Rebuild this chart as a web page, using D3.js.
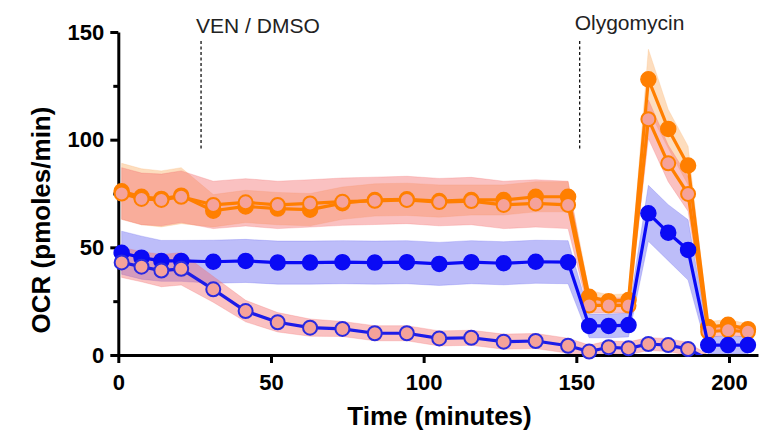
<!DOCTYPE html>
<html>
<head>
<meta charset="utf-8">
<script src="https://cdn.jsdelivr.net/npm/d3@7/dist/d3.min.js"></script>
<style>
  html, body { margin: 0; padding: 0; background: #fff; }
  svg { display: block; }
  text { font-family: "Liberation Sans", Arial, Helvetica, sans-serif; }
</style>
</head>
<body>
<svg id="chart" width="761" height="435"></svg>
<script>
// Measurement times (minutes)
const time = [1.1, 7.6, 14.1, 20.6, 31.1, 41.7, 52.2, 62.8, 73.4, 84.0, 94.5, 105.1,
  115.6, 126.2, 136.7, 147.3, 154.2, 160.6, 167.1, 173.6, 180.1, 186.6, 193.2, 199.7, 206.2];

// OCR means and spread (pmoles/min) per condition
const orangeMean = [76, 73.5, 72.5, 74, 67, 69, 68, 67.5, 70.5, 72, 72.3, 71.5,
  72, 72, 73.5, 73.5, 27, 25, 25.5, 128, 105, 88, 13, 14, 12];
const orangeSd = [13, 13, 13, 13, 7.5, 7.5, 7.5, 7.5, 7.5, 7.5, 7.5, 7.5,
  7, 7, 7, 7, 3, 3, 3, 14, 9, 9, 2.5, 2.5, 2.5];

const salmonMean = [75, 72.5, 72, 73.5, 69.7, 70.9, 69.7, 70.4, 71.2, 71.6, 72, 71,
  71.5, 69.7, 70.4, 69.7, 23, 23, 23, 109.5, 89, 74.8, 10.8, 11.5, 10.8];
const salmonSd = [12, 12, 12, 12, 11, 11, 11, 11, 11, 11, 11, 11,
  11, 11, 11, 11, 3.5, 3.5, 3.5, 9, 8.5, 8, 2.5, 2.5, 2.5];

const blueMean = [47.5, 45.2, 43.7, 43.7, 43.3, 43.7, 42.9, 42.9, 43.1, 42.9, 43.1, 42.3,
  43.1, 42.6, 43.3, 43.1, 13.5, 13.5, 13.9, 65.8, 56.8, 48.8, 4.6, 4.6, 4.6];
const blueSd = [10, 10, 9.5, 9.5, 10, 10, 10, 10, 10, 10, 10, 10,
  10, 10, 10, 10, 5.5, 5.5, 5.5, 13, 13, 14, 4, 4, 4];

const violetMean = [43, 41, 39.2, 40, 30.5, 20.4, 15.2, 12.7, 12.1, 10.1, 10.1, 7.7,
  8.0, 6.2, 6.5, 4.3, 1.6, 3.6, 3.1, 5.1, 4.6, 2.8, -2, -2, -2];
const violetSd = [7, 7, 7.5, 7.5, 6, 5, 4.5, 4, 3.5, 3.5, 3.5, 3.5,
  3.5, 3.5, 3.5, 3.5, 3, 3, 3, 3, 3, 3, 2, 2, 2];

// Injection markers
const injections = [
  { label: "VEN / DMSO", t: 27.1 },
  { label: "Olygomycin", t: 151.1 }
];

const xTicks = [0, 50, 100, 150, 200];
const yTicks = [0, 50, 100, 150];
const yMinorTicks = [25, 75, 125];

const svg = d3.select("#chart");

const x = d3.scaleLinear().domain([0, 209.5]).range([118.3, 758]);
const y = d3.scaleLinear().domain([0, 150]).range([355, 32]);

// Plot clip (values below zero stay hidden under the axis)
svg.append("defs").append("clipPath").attr("id", "plotClip")
  .append("rect")
  .attr("x", x(0)).attr("y", 0)
  .attr("width", 761 - x(0)).attr("height", y(0));

const series = [
  { mean: orangeMean, sd: orangeSd, line: "#ff7f00", fill: "#ff7f00", stroke: "#ff7f00",
    band: "#fbb46e", bandOpacity: 0.45, r: 7.5, sw: 1.5 },
  { mean: salmonMean, sd: salmonSd, line: "#ff7f00", fill: "#f5a29a", stroke: "#ff7f00",
    band: "#f26b6b", bandOpacity: 0.42, r: 7, sw: 2 },
  { mean: blueMean, sd: blueSd, line: "#0a0af5", fill: "#0a0af5", stroke: "#0a0af5",
    band: "#5a5af0", bandOpacity: 0.4, r: 7.5, sw: 1.5 },
  { mean: violetMean, sd: violetSd, line: "#1c1ce8", fill: "#f5a29a", stroke: "#2a2ae0",
    band: "#f26b6b", bandOpacity: 0.42, r: 7, sw: 2 }
];

const bandLayer = svg.append("g").attr("clip-path", "url(#plotClip)");
series.forEach(s => {
  const area = d3.area()
    .x((d, i) => x(time[i]))
    .y0((d, i) => y(s.mean[i] - s.sd[i]))
    .y1((d, i) => y(s.mean[i] + s.sd[i]));
  bandLayer.append("path")
    .datum(s.mean)
    .attr("d", area)
    .attr("fill", s.band)
    .attr("fill-opacity", s.bandOpacity)
    .attr("stroke", s.band)
    .attr("stroke-opacity", 0.25)
    .attr("stroke-width", 1);
});

// Axes
const yAxis = svg.append("g")
  .attr("transform", `translate(${x(0)},0)`)
  .call(d3.axisLeft(y).tickValues(yTicks).tickSize(8).tickSizeOuter(0).tickPadding(6));
svg.append("g")
  .attr("transform", `translate(${x(0)},0)`)
  .call(d3.axisLeft(y).tickValues(yMinorTicks).tickSize(5).tickFormat(""))
  .call(g => g.select(".domain").remove())
  .selectAll("line").attr("stroke", "#000").attr("stroke-width", 3);

const xAxis = svg.append("g")
  .attr("transform", `translate(0,${y(0)})`)
  .call(d3.axisBottom(x).tickValues(xTicks).tickSize(8).tickSizeOuter(0).tickPadding(6));

[yAxis, xAxis].forEach(g => {
  g.select(".domain").attr("stroke", "#000").attr("stroke-width", 3);
  g.selectAll(".tick line").attr("stroke", "#000").attr("stroke-width", 3);
  g.selectAll(".tick text")
    .attr("fill", "#000")
    .style("font-size", "22px")
    .style("font-weight", "bold");
});
xAxis.selectAll(".tick text").attr("dy", "0.95em");

// Lines and markers
const lineLayer = svg.append("g");
series.forEach(s => {
  const line = d3.line()
    .x((d, i) => x(time[i]))
    .y(d => y(d));
  lineLayer.append("path")
    .datum(s.mean)
    .attr("clip-path", "url(#plotClip)")
    .attr("d", line)
    .attr("fill", "none")
    .attr("stroke", s.line)
    .attr("stroke-width", 3.2)
    .attr("stroke-linejoin", "round");
  lineLayer.append("g")
    .selectAll("circle")
    .data(s.mean.map((v, i) => ({ t: time[i], v })).filter(d => d.v >= 0))
    .join("circle")
    .attr("cx", d => x(d.t))
    .attr("cy", d => y(d.v))
    .attr("r", s.r)
    .attr("fill", s.fill)
    .attr("stroke", s.stroke)
    .attr("stroke-width", s.sw);
});

// Injection annotations
const injLayer = svg.append("g");
injections.forEach(inj => {
  injLayer.append("line")
    .attr("x1", x(inj.t)).attr("x2", x(inj.t))
    .attr("y1", 41).attr("y2", 150)
    .attr("stroke", "#111")
    .attr("stroke-width", 1.3)
    .attr("stroke-dasharray", "3,2.5");
  injLayer.append("text")
    .attr("x", x(inj.t) - 5)
    .attr("y", inj.t < 100 ? 33 : 30)
    .attr("fill", "#222")
    .style("font-size", "21px")
    .text(inj.label);
});

// Axis titles
svg.append("text")
  .attr("transform", "translate(50,220) rotate(-90)")
  .attr("text-anchor", "middle")
  .style("font-size", "26px")
  .style("font-weight", "bold")
  .attr("fill", "#000")
  .text("OCR (pmoles/min)");

svg.append("text")
  .attr("x", 439.5)
  .attr("y", 425)
  .attr("text-anchor", "middle")
  .style("font-size", "26px")
  .style("font-weight", "bold")
  .attr("fill", "#000")
  .text("Time (minutes)");
</script>
</body>
</html>
